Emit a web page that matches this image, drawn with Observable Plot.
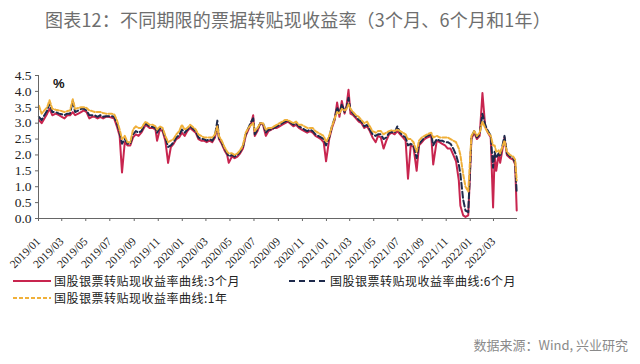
<!DOCTYPE html>
<html><head><meta charset="utf-8">
<script src="https://cdn.jsdelivr.net/npm/d3@7"></script>
<script src="https://cdn.jsdelivr.net/npm/@observablehq/plot@0.6"></script>
<style>
body{margin:0;background:#fff;}
#wrap{position:relative;width:640px;height:364px;overflow:hidden;background:#fff;}
#title{position:absolute;left:45px;top:6px;font-family:"Noto Sans CJK SC","Noto Sans",sans-serif;font-size:18px;color:#6e6e6e;white-space:nowrap;letter-spacing:0.2px;}
#pct{position:absolute;left:53px;top:76px;font-family:"Liberation Sans",sans-serif;font-weight:bold;font-size:13px;color:#111;}
.leg{position:absolute;font-family:"Noto Sans CJK SC",sans-serif;font-size:12px;letter-spacing:0.5px;line-height:12px;height:12px;color:#222;white-space:nowrap;display:flex;align-items:center;}
.leg svg{margin-right:3px;}
#src{position:absolute;right:12px;top:335px;font-family:"Noto Sans CJK SC","Noto Sans",sans-serif;font-size:13px;color:#8a8a8a;white-space:nowrap;}
</style></head>
<body><div id="wrap"></div>
<script>
const dates = ["2019-01-02","2019-01-09","2019-01-16","2019-01-23","2019-01-29","2019-02-05","2019-02-14","2019-02-22","2019-03-01","2019-03-08","2019-03-15","2019-03-22","2019-03-29","2019-04-04","2019-04-12","2019-04-19","2019-04-26","2019-05-03","2019-05-10","2019-05-17","2019-05-24","2019-05-31","2019-06-07","2019-06-14","2019-06-21","2019-06-28","2019-07-05","2019-07-12","2019-07-19","2019-07-26","2019-08-01","2019-08-08","2019-08-15","2019-08-22","2019-08-29","2019-09-05","2019-09-12","2019-09-19","2019-09-30","2019-10-10","2019-10-18","2019-10-25","2019-10-29","2019-11-05","2019-11-12","2019-11-19","2019-11-26","2019-12-03","2019-12-10","2019-12-17","2019-12-24","2019-12-31","2020-01-07","2020-01-14","2020-01-21","2020-02-04","2020-02-11","2020-02-18","2020-02-25","2020-03-03","2020-03-10","2020-03-17","2020-03-24","2020-03-30","2020-04-03","2020-04-10","2020-04-17","2020-04-24","2020-04-28","2020-05-06","2020-05-13","2020-05-20","2020-05-27","2020-06-03","2020-06-10","2020-06-17","2020-06-24","2020-06-29","2020-07-03","2020-07-10","2020-07-17","2020-07-24","2020-07-31","2020-08-07","2020-08-14","2020-08-21","2020-08-28","2020-09-04","2020-09-11","2020-09-18","2020-09-25","2020-10-09","2020-10-16","2020-10-23","2020-10-30","2020-11-06","2020-11-13","2020-11-20","2020-11-27","2020-12-04","2020-12-11","2020-12-18","2020-12-25","2020-12-31","2021-01-08","2021-01-15","2021-01-22","2021-01-28","2021-02-03","2021-02-09","2021-02-16","2021-02-21","2021-02-26","2021-03-03","2021-03-10","2021-03-17","2021-03-24","2021-03-31","2021-04-07","2021-04-14","2021-04-21","2021-04-28","2021-05-06","2021-05-12","2021-05-19","2021-05-26","2021-06-02","2021-06-09","2021-06-16","2021-06-23","2021-06-30","2021-07-07","2021-07-14","2021-07-21","2021-07-27","2021-08-03","2021-08-10","2021-08-18","2021-08-24","2021-08-31","2021-09-07","2021-09-14","2021-09-24","2021-09-29","2021-10-08","2021-10-15","2021-10-22","2021-10-29","2021-11-05","2021-11-12","2021-11-19","2021-11-26","2021-12-03","2021-12-07","2021-12-14","2021-12-20","2021-12-27","2022-01-04","2022-01-11","2022-01-18","2022-01-25","2022-02-01","2022-02-08","2022-02-15","2022-02-22","2022-02-28","2022-03-04","2022-03-08","2022-03-14","2022-03-18","2022-03-29","2022-04-04","2022-04-12","2022-04-20","2022-04-25","2022-04-29"];
const r3m = [3.10,3.00,3.15,3.30,3.45,3.25,3.30,3.25,3.20,3.15,3.25,3.25,3.35,3.25,3.30,3.35,3.40,3.35,3.15,3.20,3.20,3.15,3.20,3.15,3.20,3.20,3.18,3.15,2.90,2.60,1.45,2.40,2.30,2.30,2.55,2.65,2.60,2.70,2.95,2.85,2.85,2.80,2.45,2.80,2.75,2.45,1.75,2.25,2.35,2.50,2.55,2.70,2.60,2.75,2.85,2.70,2.50,2.45,2.45,2.40,2.45,2.40,2.55,2.95,2.50,2.35,2.15,2.00,1.75,1.95,1.90,1.95,2.05,2.20,2.60,2.80,3.00,3.25,2.60,2.75,3.00,2.95,2.60,2.75,2.80,2.85,2.85,2.90,2.95,3.00,3.05,2.90,2.95,2.85,2.80,2.75,2.70,2.75,2.70,2.60,2.55,2.50,2.40,1.80,2.50,2.85,3.10,3.65,3.20,3.70,3.30,3.55,4.05,3.30,3.25,3.15,3.05,3.00,2.85,2.90,2.75,2.55,2.40,2.60,2.55,2.20,2.45,2.65,2.70,2.65,2.75,2.65,2.55,2.45,1.25,2.30,2.25,1.50,2.30,2.40,2.50,2.55,2.60,1.70,2.45,2.40,2.35,2.30,2.20,2.20,2.00,1.80,1.20,0.40,0.10,0.05,0.10,2.50,2.70,2.50,2.60,3.95,2.90,2.70,2.55,0.35,2.00,1.50,2.00,1.75,2.55,2.00,1.90,1.85,1.70,0.25];
const r6m = [3.20,3.10,3.25,3.40,3.62,3.35,3.35,3.30,3.28,3.25,3.30,3.30,3.70,3.35,3.40,3.45,3.45,3.40,3.25,3.25,3.25,3.20,3.25,3.20,3.22,3.22,3.22,3.20,3.00,2.70,2.35,2.50,2.35,2.35,2.65,2.75,2.70,2.75,3.00,2.90,2.88,2.85,2.70,2.85,2.80,2.55,2.25,2.30,2.40,2.55,2.62,2.80,2.70,2.80,2.90,2.75,2.55,2.50,2.50,2.45,2.50,2.45,2.60,3.08,2.55,2.40,2.20,2.05,1.95,2.00,1.95,2.00,2.10,2.25,2.65,2.85,3.05,3.15,2.65,2.80,3.00,3.00,2.70,2.80,2.80,2.85,2.90,2.95,3.00,3.05,3.08,2.95,3.00,2.90,2.85,2.80,2.75,2.80,2.75,2.65,2.60,2.55,2.50,2.30,2.55,2.90,3.15,3.50,3.30,3.60,3.35,3.50,3.80,3.40,3.30,3.20,3.10,3.05,2.90,2.95,2.80,2.65,2.60,2.65,2.65,2.50,2.55,2.70,2.72,2.70,2.90,2.70,2.60,2.55,2.30,2.35,2.30,1.90,2.35,2.45,2.55,2.60,2.65,2.30,2.50,2.45,2.45,2.40,2.40,2.35,2.20,2.00,1.70,1.40,0.60,0.25,0.20,2.55,2.75,2.55,2.65,3.30,2.95,2.75,2.60,1.60,2.10,1.90,2.05,1.95,2.60,2.05,1.95,1.90,1.75,0.80];
const r1y = [3.55,3.30,3.40,3.50,3.72,3.45,3.42,3.40,3.38,3.35,3.38,3.40,3.75,3.45,3.48,3.50,3.50,3.48,3.40,3.38,3.35,3.35,3.35,3.32,3.30,3.30,3.30,3.28,3.10,2.80,2.50,2.60,2.40,2.40,2.80,2.90,2.85,2.85,3.05,2.95,2.95,2.90,2.80,2.90,2.85,2.60,2.40,2.45,2.50,2.65,2.75,2.95,2.80,2.85,2.95,2.80,2.65,2.60,2.55,2.55,2.55,2.55,2.65,2.90,2.60,2.45,2.25,2.10,2.05,2.05,2.00,2.05,2.15,2.30,2.70,2.85,2.95,3.00,2.75,2.85,3.00,3.00,2.80,2.85,2.85,2.90,2.95,3.00,3.05,3.10,3.10,3.00,3.05,2.95,2.95,2.90,2.85,2.85,2.85,2.75,2.70,2.65,2.60,2.40,2.60,2.90,3.15,3.35,3.30,3.45,3.40,3.45,3.60,3.45,3.35,3.25,3.20,3.10,3.00,3.05,2.90,2.75,2.70,2.75,2.75,2.65,2.70,2.75,2.78,2.75,2.80,2.75,2.70,2.65,2.50,2.50,2.40,2.10,2.45,2.55,2.60,2.65,2.70,2.55,2.60,2.55,2.55,2.55,2.55,2.50,2.45,2.40,2.20,2.00,1.40,1.00,0.85,2.60,2.75,2.60,2.70,3.05,2.85,2.70,2.60,2.30,2.30,2.10,2.15,2.05,2.45,2.10,2.00,1.95,1.85,1.20];
const xTickLabels = ["2019/01","2019/03","2019/05","2019/07","2019/09","2019/11","2020/01","2020/03","2020/05","2020/07","2020/09","2020/11","2021/01","2021/03","2021/05","2021/07","2021/09","2021/11","2022/01","2022/03"];
const yTicks = [0,0.5,1,1.5,2,2.5,3,3.5,4,4.5];
const seriesNames = ["国股银票转贴现收益率曲线:3个月","国股银票转贴现收益率曲线:6个月","国股银票转贴现收益率曲线:1年"];
const colors = ["#c8254f","#1e2a4c","#f0b03a"];

const parse = d3.utcParse("%Y-%m-%d");
const data = dates.map((d,i)=>({date:parse(d), r3m:r3m[i], r6m:r6m[i], r1y:r1y[i]}));
const tickDates = xTickLabels.map(s=>d3.utcParse("%Y/%m")(s));
const x0 = new Date(Date.UTC(2019,0,1)), x1 = new Date(Date.UTC(2022,4,1));

const chart = Plot.plot({
  width:640, height:364,
  marginLeft:38, marginRight:123, marginTop:75, marginBottom:146,
  style:{fontFamily:"'Liberation Serif',serif", background:"transparent", color:"#222"},
  x:{type:"utc", domain:[x0,x1]},
  y:{domain:[0,4.5]},
  marks:[
    Plot.lineY(data,{x:"date",y:"r3m",stroke:colors[0],strokeWidth:2}),
    Plot.lineY(data,{x:"date",y:"r6m",stroke:colors[1],strokeWidth:2,strokeDasharray:"6,3"}),
    Plot.lineY(data,{x:"date",y:"r1y",stroke:colors[2],strokeWidth:2,strokeDasharray:"4,2"}),
    Plot.ruleY([0],{stroke:"#666",strokeWidth:1}),
    Plot.ruleX([x0],{stroke:"#666",strokeWidth:1}),
    Plot.axisX({ticks:tickDates, tickFormat:d3.utcFormat("%Y/%m"), tickRotate:-45, tickSize:3, tickPadding:18, fontSize:11.5, stroke:"#666", label:null}),
    Plot.axisY({ticks:yTicks, tickFormat:d3.format(".1f"), tickSize:3, tickPadding:4, fontSize:13.5, stroke:"#666", label:null})
  ]
});
const wrap = document.getElementById("wrap");
chart.style.position="absolute"; chart.style.left="0"; chart.style.top="0";
wrap.appendChild(chart);

function add(html){ wrap.insertAdjacentHTML("beforeend", html); }
add('<div id="title">图表12：不同期限的票据转贴现收益率（3个月、6个月和1年）</div>');
add('<div id="pct">%</div>');
const dashes = ["", "6,4", "4,2"];
const legPos = [[13,275],[289,275],[13,292]];
seriesNames.forEach((n,i)=>{
  add(`<div class="leg" style="left:${legPos[i][0]}px;top:${legPos[i][1]}px"><svg width="38" height="12"><line x1="0" x2="38" y1="6" y2="6" stroke="${colors[i]}" stroke-width="2" stroke-dasharray="${dashes[i]}"/></svg>${n}</div>`);
});
add('<div id="src">数据来源：Wind, 兴业研究</div>');
</script></body></html>
